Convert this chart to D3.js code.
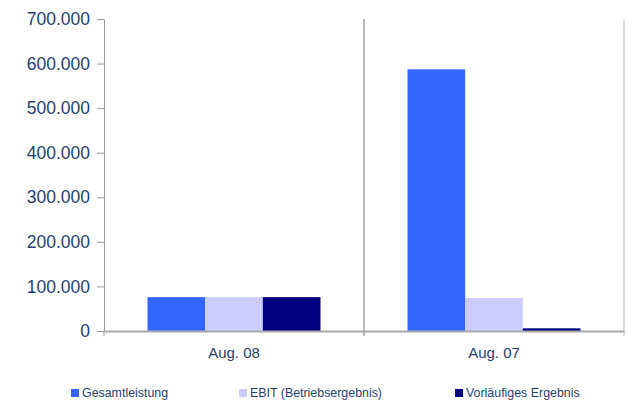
<!DOCTYPE html>
<html>
<head>
<meta charset="utf-8">
<script src="https://cdn.jsdelivr.net/npm/d3@7"></script>
<style>
  body { margin: 0; background: #fff; }
  svg text { font-family: "Liberation Sans", Arial, sans-serif; }
</style>
</head>
<body>
<div id="chart"></div>
<script>
// data
var categories = ["Aug. 08", "Aug. 07"];
var seriesNames = ["Gesamtleistung", "EBIT (Betriebsergebnis)", "Vorläufiges Ergebnis"];
var gesamtleistung = [76000, 587000];
var ebit = [76000, 74000];
var vorlaeufig = [76000, 6000];
var yTicks = [0, 100000, 200000, 300000, 400000, 500000, 600000, 700000];

var colors = ["#3366ff", "#ccccff", "#000080"];
var textColor = "#1f3f6f";
var fontFam = "Liberation Sans, Arial, sans-serif";

var width = 632, height = 401;
var margin = {top: 19, right: 8, bottom: 70, left: 104};

var svg = d3.select("#chart")
  .append("svg")
    .attr("width", width)
    .attr("height", height);

var x0 = d3.scaleBand()
  .domain(categories)
  .range([margin.left, width - margin.right])
  .padding(0);

var x1 = d3.scaleBand()
  .domain(seriesNames)
  .range([43.5, x0.bandwidth() - 43.5])
  .padding(0);

var y = d3.scaleLinear()
  .domain([0, 700000])
  .range([height - margin.bottom, margin.top]);

var rows = categories.map(function(c, i) {
  return [gesamtleistung[i], ebit[i], vorlaeufig[i]];
});

// vertical separators
svg.append("g")
  .selectAll("line")
  .data(categories)
  .enter()
  .append("line")
    .attr("x1", function(d) { return x0(d) + x0.bandwidth(); })
    .attr("x2", function(d) { return x0(d) + x0.bandwidth(); })
    .attr("y1", y(700000))
    .attr("y2", y(0) + 5)
    .attr("stroke", function(d, i) { return i == 0 ? "#777" : "#bbb"; })
    .attr("stroke-width", 1);

// bars
var groups = svg.append("g")
  .selectAll("g")
  .data(rows)
  .enter()
  .append("g")
    .attr("transform", function(d, i) { return "translate(" + x0(categories[i]) + ",0)"; });

groups.selectAll("rect")
  .data(function(d) { return d.map(function(v, j) { return {name: seriesNames[j], value: v, idx: j}; }); })
  .enter()
  .append("rect")
    .attr("x", function(d) { return x1(d.name); })
    .attr("width", x1.bandwidth())
    .attr("y", function(d) { return y(d.value); })
    .attr("height", function(d) { return y(0) - y(d.value); })
    .attr("fill", function(d) { return colors[d.idx]; });

// y axis
var fmt = function(d) { return d3.format(",")(d).replace(/,/g, "."); };
var gY = svg.append("g")
  .attr("transform", "translate(" + margin.left + ",0)")
  .call(d3.axisLeft(y).tickValues(yTicks).tickFormat(fmt).tickSize(7).tickSizeOuter(0).tickPadding(7));

gY.attr("font-family", fontFam);
gY.select(".domain").attr("stroke", "#999");
gY.selectAll(".tick line").attr("stroke", "#999");
gY.selectAll(".tick text")
  .attr("font-size", 17.5)
  .attr("fill", textColor);

// x axis
var gX = svg.append("g")
  .attr("transform", "translate(0," + y(0) + ")")
  .call(d3.axisBottom(x0).tickSize(0).tickPadding(16));

gX.attr("font-family", fontFam);
gX.select(".domain").attr("stroke", "#aaa").attr("stroke-width", 2);
gX.selectAll(".tick text")
  .attr("font-size", 15)
  .attr("fill", textColor);

// left tick on x axis
svg.append("line")
  .attr("x1", margin.left).attr("x2", margin.left)
  .attr("y1", y(0)).attr("y2", y(0) + 5)
  .attr("stroke", "#999");

// legend
var legendX = [71, 239, 455];
var legend = svg.append("g")
  .selectAll("g")
  .data(seriesNames)
  .enter()
  .append("g")
    .attr("transform", function(d, i) { return "translate(" + legendX[i] + ",389)"; });

legend.append("rect")
  .attr("width", 8)
  .attr("height", 8)
  .attr("fill", function(d, i) { return colors[i]; });

legend.append("text")
  .attr("x", 11)
  .attr("y", 8)
  .attr("font-size", 12.4)
  .attr("font-family", fontFam)
  .attr("fill", textColor)
  .text(function(d) { return d; });
</script>
</body>
</html>
